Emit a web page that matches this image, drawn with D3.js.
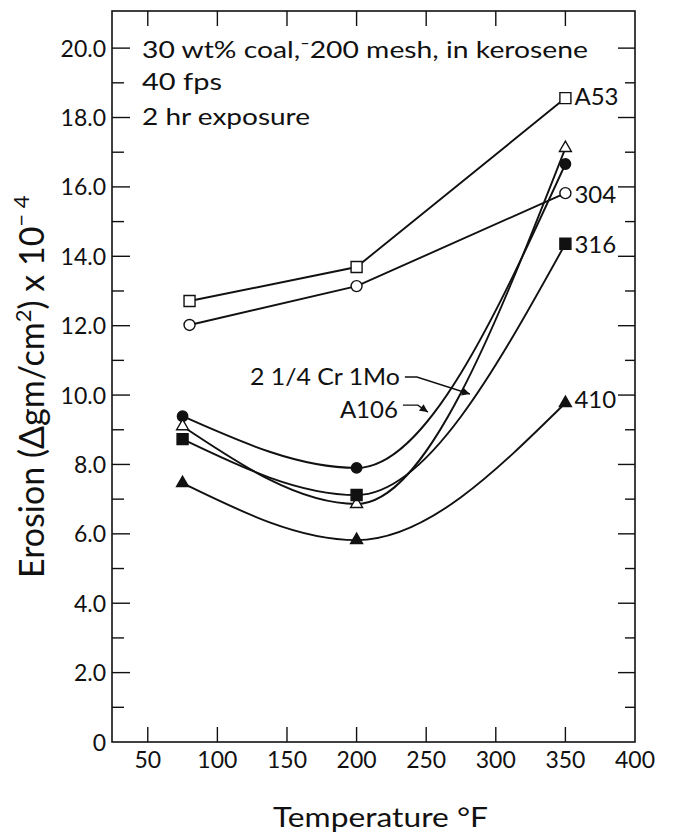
<!DOCTYPE html>
<html>
<head>
<meta charset="utf-8">
<script src="https://cdn.jsdelivr.net/npm/d3@7"></script>
<style>
  html, body { margin: 0; padding: 0; background: #fff; }
  svg { display: block; }
  text { font-family: Lato, "DejaVu Sans", sans-serif; fill: #111; }
</style>
</head>
<body>
<svg id="chart" width="675" height="836"></svg>
<script>
// Temperatures (°F) at which each alloy was tested
const tempsOpen = [80, 200, 350];
const tempsFilled = [75, 200, 350];

// Erosion (Δgm/cm² x 10^-4) after 2 hr exposure
const erosionA53 = [12.71, 13.69, 18.56];
const erosion304 = [12.02, 13.14, 15.82];
const erosionCrMo = [9.39, 7.90, 16.66];
const erosionA106 = [9.10, 6.86, 17.12];
const erosion316 = [8.73, 7.12, 14.36];
const erosion410 = [7.46, 5.82, 9.77];

const xTicks = [50, 100, 150, 200, 250, 300, 350, 400];
const yMajorTicks = [0, 2, 4, 6, 8, 10, 12, 14, 16, 18, 20];
const yMinorTicks = [1, 3, 5, 7, 9, 11, 13, 15, 17, 19];

const notes = ["30 wt% coal,\u207B200 mesh, in kerosene", "40 fps", "2 hr exposure"];

const svg = d3.select("#chart");
const plotLeft = 112, plotRight = 635, plotTop = 11, plotBottom = 742;

const x = d3.scaleLinear().domain([24.3, 400]).range([plotLeft, plotRight]);
const y = d3.scaleLinear().domain([0, 21.07]).range([plotBottom, plotTop]);

const ink = "#111";

// frame
svg.append("rect")
  .attr("x", plotLeft).attr("y", plotTop)
  .attr("width", plotRight - plotLeft).attr("height", plotBottom - plotTop)
  .attr("fill", "none").attr("stroke", ink).attr("stroke-width", 1.6);

// bottom axis ticks (inward) + labels
const bx = svg.append("g");
bx.selectAll("line").data(xTicks.filter(d => d < 400)).join("line")
  .attr("x1", d => x(d)).attr("x2", d => x(d))
  .attr("y1", plotBottom).attr("y2", plotBottom - 15)
  .attr("stroke", ink).attr("stroke-width", 1.4);
bx.selectAll("text").data(xTicks).join("text")
  .attr("x", d => x(d)).attr("y", plotBottom + 26)
  .attr("text-anchor", "middle").attr("font-size", 23)
  .text(d => d);

// top axis ticks (inward)
svg.append("g").selectAll("line").data(xTicks.filter(d => d < 400)).join("line")
  .attr("x1", d => x(d)).attr("x2", d => x(d))
  .attr("y1", plotTop).attr("y2", plotTop + 15)
  .attr("stroke", ink).attr("stroke-width", 1.4);

// left axis ticks + labels
const ly = svg.append("g");
ly.selectAll("line.major").data(yMajorTicks.filter(d => d > 0)).join("line")
  .attr("class", "major")
  .attr("x1", plotLeft).attr("x2", plotLeft + 18)
  .attr("y1", d => y(d)).attr("y2", d => y(d))
  .attr("stroke", ink).attr("stroke-width", 1.4);
ly.selectAll("line.minor").data(yMinorTicks).join("line")
  .attr("class", "minor")
  .attr("x1", plotLeft).attr("x2", plotLeft + 12)
  .attr("y1", d => y(d)).attr("y2", d => y(d))
  .attr("stroke", ink).attr("stroke-width", 1.4);
ly.selectAll("text").data(yMajorTicks).join("text")
  .attr("x", plotLeft - 6).attr("y", d => y(d) + 8.5)
  .attr("text-anchor", "end").attr("font-size", 23)
  .text(d => d === 0 ? "0" : d.toFixed(1));

// right axis ticks (inward)
const ry = svg.append("g");
ry.selectAll("line.major").data(yMajorTicks.filter(d => d > 0)).join("line")
  .attr("class", "major")
  .attr("x1", plotRight).attr("x2", plotRight - 17)
  .attr("y1", d => y(d)).attr("y2", d => y(d))
  .attr("stroke", ink).attr("stroke-width", 1.4);
ry.selectAll("line.minor").data(yMinorTicks).join("line")
  .attr("class", "minor")
  .attr("x1", plotRight).attr("x2", plotRight - 10)
  .attr("y1", d => y(d)).attr("y2", d => y(d))
  .attr("stroke", ink).attr("stroke-width", 1.4);

// axis titles
svg.append("text")
  .attr("x", 273).attr("y", 827)
  .attr("font-size", 26)
  .attr("textLength", 215).attr("lengthAdjust", "spacingAndGlyphs")
  .text("Temperature \u00B0F");

const yt = svg.append("text")
  .attr("transform", "translate(44,578) rotate(-90)")
  .attr("font-size", 34);
yt.append("tspan").text("Erosion (\u0394gm/cm");
yt.append("tspan").attr("font-size", 22).attr("dy", -13).text("2");
yt.append("tspan").attr("dy", 13).text(") x 10");
yt.append("tspan").attr("font-size", 22).attr("dy", -15).text("\u2212 4");

// test conditions
svg.append("g").selectAll("text").data(notes).join("text")
  .attr("x", 142)
  .attr("y", (d, i) => [58, 90, 125][i])
  .attr("font-size", 23)
  .attr("textLength", (d, i) => [446, 80, 168][i])
  .attr("lengthAdjust", "spacingAndGlyphs")
  .text(d => d);

// series
const series = [
  { name: "A53", temps: tempsOpen, vals: erosionA53, curve: d3.curveLinear, symbol: d3.symbolSquare, size: 121, filled: false, label: "A53", dy: 7 },
  { name: "304", temps: tempsOpen, vals: erosion304, curve: d3.curveLinear, symbol: d3.symbolCircle, size: 95, filled: false, label: "304", dy: 10 },
  { name: "CrMo", temps: tempsFilled, vals: erosionCrMo, curve: d3.curveMonotoneX, symbol: d3.symbolCircle, size: 85, filled: true, label: null },
  { name: "A106", temps: tempsFilled, vals: erosionA106, curve: d3.curveMonotoneX, symbol: d3.symbolTriangle, size: 62, filled: false, label: null },
  { name: "316", temps: tempsFilled, vals: erosion316, curve: d3.curveMonotoneX, symbol: d3.symbolSquare, size: 121, filled: true, label: "316", dy: 9 },
  { name: "410", temps: tempsFilled, vals: erosion410, curve: d3.curveMonotoneX, symbol: d3.symbolTriangle, size: 62, filled: true, label: "410", dy: 5 }
];

const lines = svg.append("g");
series.forEach(s => {
  const pts = s.temps.map((t, i) => [t, s.vals[i]]);
  lines.append("path")
    .attr("d", d3.line().x(d => x(d[0])).y(d => y(d[1])).curve(s.curve)(pts))
    .attr("fill", "none").attr("stroke", ink).attr("stroke-width", 1.9);
});

const marks = svg.append("g");
series.forEach(s => {
  const pts = s.temps.map((t, i) => [t, s.vals[i]]);
  marks.selectAll(null).data(pts).join("path")
    .attr("transform", d => `translate(${x(d[0])},${y(d[1])})`)
    .attr("d", d3.symbol().type(s.symbol).size(s.size)())
    .attr("fill", s.filled ? ink : "#fff")
    .attr("stroke", ink).attr("stroke-width", 1.4);
  if (s.label) {
    const last = pts[pts.length - 1];
    svg.append("text")
      .attr("x", x(last[0]) + 9).attr("y", y(last[1]) + s.dy)
      .attr("font-size", 24)
      .text(s.label);
  }
});

// callout labels with leader arrows
svg.append("defs").append("marker")
  .attr("id", "arrow").attr("viewBox", "0 0 10 10")
  .attr("refX", 10).attr("refY", 5)
  .attr("markerWidth", 10).attr("markerHeight", 8)
  .attr("markerUnits", "userSpaceOnUse")
  .attr("orient", "auto")
  .append("path").attr("d", "M0,0 L10,5 L0,10 Z").attr("fill", ink);

const callouts = [
  { text: "2 1/4 Cr 1Mo", at: [123.4, 10.29], width: 150, path: [[234.7, 10.52], [243.3, 10.52], [281.4, 10.03]] },
  { text: "A106", at: [188.0, 9.33], width: 58, path: [[233.3, 9.71], [244.0, 9.71], [251.2, 9.51]] }
];
callouts.forEach(c => {
  svg.append("text")
    .attr("x", x(c.at[0])).attr("y", y(c.at[1]))
    .attr("font-size", 24)
    .attr("textLength", c.width).attr("lengthAdjust", "spacingAndGlyphs")
    .text(c.text);
  svg.append("path")
    .attr("d", d3.line().x(d => x(d[0])).y(d => y(d[1]))(c.path))
    .attr("fill", "none").attr("stroke", ink).attr("stroke-width", 1.4)
    .attr("marker-end", "url(#arrow)");
});
</script>
</body>
</html>
